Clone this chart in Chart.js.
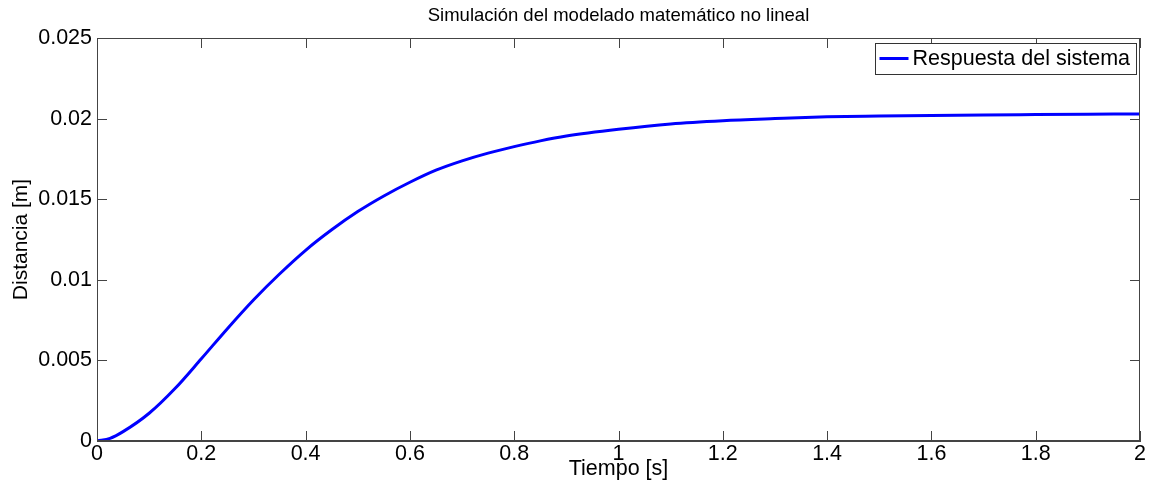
<!DOCTYPE html>
<html>
<head>
<meta charset="utf-8">
<script src="https://cdn.jsdelivr.net/npm/chart.js@4"></script>
<style>
  html, body { margin: 0; padding: 0; background: #fff; }
  #box { width: 1155px; height: 490px; }
</style>
</head>
<body>
<div id="box"><canvas id="SimBox"></canvas></div>
<script>
// tiempo [s] y distancia [m]
const tiempo = [0, 0.025, 0.05, 0.1, 0.15, 0.2, 0.25, 0.3, 0.35, 0.4, 0.45, 0.5, 0.55, 0.6, 0.65, 0.7, 0.75, 0.8, 0.85, 0.9, 1.0, 1.1, 1.2, 1.3, 1.4, 1.5, 1.6, 1.7, 1.8, 1.9, 2.0];
const distancia = [0, 0.00016, 0.00058, 0.00172, 0.00327, 0.0051, 0.00697, 0.00875, 0.01036, 0.01183, 0.0131, 0.01423, 0.0152, 0.01605, 0.0168, 0.01738, 0.01786, 0.01826, 0.01862, 0.01892, 0.01934, 0.01967, 0.01987, 0.0200, 0.02011, 0.02016, 0.0202, 0.02023, 0.02025, 0.02027, 0.02029];
const xTicks = [0, 0.2, 0.4, 0.6, 0.8, 1, 1.2, 1.4, 1.6, 1.8, 2];
const yTicks = [0, 0.005, 0.01, 0.015, 0.02, 0.025];
const titulo = 'Simulación del modelado matemático no lineal';

const axisColor = '#444';
const fontFam = '"Liberation Sans", Arial, sans-serif';

// marco, ticks hacia dentro en los cuatro lados, titulo y leyenda con caja
const matlabAxes = {
    id: 'matlabAxes',
    afterDraw(chart) {
        const c = chart.ctx, a = chart.chartArea;
        const xs = chart.scales.x, ys = chart.scales.y;
        c.save();
        c.strokeStyle = axisColor;
        c.lineWidth = 1;
        c.strokeRect(a.left + 0.5, a.top + 0.5, a.right - a.left - 1, a.bottom - a.top - 1);
        c.beginPath();
        xTicks.forEach(v => {
            const px = Math.round(xs.getPixelForValue(v)) + 0.5;
            c.moveTo(px, a.bottom); c.lineTo(px, a.bottom - 10);
            c.moveTo(px, a.top); c.lineTo(px, a.top + 10);
        });
        yTicks.forEach(v => {
            const py = Math.round(ys.getPixelForValue(v)) + 0.5;
            c.moveTo(a.left, py); c.lineTo(a.left + 10, py);
            c.moveTo(a.right, py); c.lineTo(a.right - 10, py);
        });
        c.stroke();

        // titulo centrado sobre el area del grafico
        c.fillStyle = '#000';
        c.textAlign = 'center';
        c.textBaseline = 'middle';
        c.font = '18.5px ' + fontFam;
        c.fillText(titulo, (a.left + a.right) / 2, 16);

        // leyenda
        const ds = chart.data.datasets[0];
        c.font = '21.5px ' + fontFam;
        const tw = c.measureText(ds.label).width;
        const bw = tw + 44, bh = 31;
        const bx = a.right - 4 - bw, by = a.top + 5;
        c.fillStyle = '#fff';
        c.fillRect(bx, by, bw, bh);
        c.strokeStyle = '#333';
        c.strokeRect(Math.round(bx) + 0.5, by + 0.5, Math.round(bw), bh);
        c.strokeStyle = ds.borderColor;
        c.lineWidth = 3;
        c.beginPath();
        c.moveTo(bx + 5, by + 15.5); c.lineTo(bx + 34, by + 15.5);
        c.stroke();
        c.fillStyle = '#000';
        c.textAlign = 'left';
        c.fillText(ds.label, bx + 38, by + 16);
        c.restore();
    }
};

const SimData = {
    datasets: [{
        label: 'Respuesta del sistema',
        data: tiempo.map((t, i) => ({ x: t, y: distancia[i] })),
        borderColor: 'rgb(0, 0, 255)',
        backgroundColor: 'rgb(0, 0, 255)',
        borderWidth: 3,
        pointRadius: 0,
        cubicInterpolationMode: 'monotone',
        fill: false
    }]
};

const fmt = v => parseFloat(Number(v).toFixed(4)).toString();

const SimConfig = {
    type: 'line',
    data: SimData,
    options: {
        responsive: true,
        maintainAspectRatio: false,
        animation: false,
        layout: { padding: { top: 38, right: 15, left: 0, bottom: 0 } },
        scales: {
            x: {
                type: 'linear',
                min: 0,
                max: 2,
                afterBuildTicks: s => { s.ticks = xTicks.map(v => ({ value: v })); },
                afterFit: s => { s.height = 49; },
                ticks: { callback: fmt, color: '#000', padding: 0, maxRotation: 0, autoSkip: false, font: { family: fontFam, size: 21.5 } },
                grid: { drawOnChartArea: false, drawTicks: false },
                border: { color: axisColor },
                title: { display: true, text: 'Tiempo [s]', color: '#000', padding: { top: 0, bottom: 8 }, font: { family: fontFam, size: 21.5 } }
            },
            y: {
                min: 0,
                max: 0.025,
                afterBuildTicks: s => { s.ticks = yTicks.map(v => ({ value: v })); },
                afterFit: s => { s.width = 97; },
                ticks: { callback: fmt, color: '#000', padding: 5, font: { family: fontFam, size: 21.5 } },
                grid: { drawOnChartArea: false, drawTicks: false },
                border: { color: axisColor },
                title: { display: true, text: 'Distancia [m]', color: '#000', padding: { top: 9, bottom: 0 }, font: { family: fontFam, size: 21 } }
            }
        },
        plugins: {
            title: { display: false },
            legend: { display: false },
            tooltip: { enabled: false }
        }
    },
    plugins: [matlabAxes]
};

window.onload = function() {
    const ctx = document.getElementById('SimBox').getContext('2d');
    new Chart(ctx, SimConfig);
};
</script>
</body>
</html>
